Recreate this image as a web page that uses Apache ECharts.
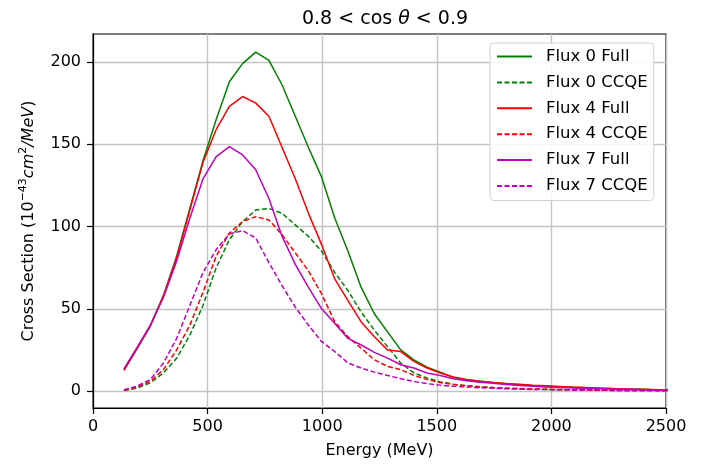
<!DOCTYPE html>
<html>
<head>
<meta charset="utf-8">
<script src="https://cdn.jsdelivr.net/npm/echarts@6/dist/echarts.min.js"></script>
<style>
  html, body { margin: 0; padding: 0; background: #fff; }
  #chartContainer { width: 704px; height: 464px; }
</style>
</head>
<body>
<div id="chartContainer"></div>
<script>
// energies of the points (MeV)
const energy = [135, 192.5, 250, 307.5, 365, 422.5, 480, 537.5, 595, 652.5,
    710, 767.5, 825, 882.5, 940, 997.5, 1055, 1112.5, 1170, 1227.5,
    1285, 1342.5, 1400, 1457.5, 1515, 1572.5, 1630, 1687.5, 1745, 1802.5,
    1860, 1917.5, 1975, 2032.5, 2090, 2147.5, 2205, 2262.5, 2320, 2377.5,
    2435, 2492.5, 2550];

const flux0Full = [12.9, 26, 39.6, 58, 82, 111, 140, 165, 188, 199,
    206, 201, 186, 167, 148, 130, 105, 85, 63, 47,
    36, 25, 19, 14.5, 11.5, 8.3, 6.8, 6.0, 5.2, 4.5,
    3.9, 3.4, 3.0, 2.6, 2.3, 2.0, 1.7, 1.5, 1.3, 1.1,
    0.9, 0.8, 0.7];
const flux0CCQE = [0.3, 1.8, 5, 11, 20, 34, 52, 75, 92, 103,
    110, 111, 108, 101, 94, 85, 72, 61, 48, 37,
    27, 17, 11, 8, 5.5, 4.2, 3.2, 2.6, 2.1, 1.7,
    1.4, 1.2, 1.0, 0.8, 0.7, 0.6, 0.5, 0.4, 0.4, 0.3,
    0.3, 0.2, 0.2];
const flux4Full = [12.5, 26, 39.5, 58, 81, 110, 139, 159, 173, 179,
    175, 167, 148, 129, 108, 89, 68, 55, 42, 33,
    25, 24, 18, 14, 11, 8.5, 7, 6, 5.2, 4.6,
    4.1, 3.6, 3.2, 2.8, 2.4, 2.1, 1.8, 1.5, 1.3, 1.1,
    0.9, 0.7, 0.6];
const flux4CCQE = [0.5, 2.3, 6, 13, 25, 40, 60, 82, 96, 103,
    106, 104, 95, 84, 73, 59, 42, 33, 26, 19,
    15, 13, 9.5, 7, 5.2, 4, 3.2, 2.6, 2.1, 1.8,
    1.5, 1.3, 1.1, 0.9, 0.8, 0.7, 0.6, 0.5, 0.4, 0.4,
    0.3, 0.3, 0.3];
const flux7Full = [13.5, 26.5, 40, 57, 79, 105, 129, 142.5, 148.5, 143.5,
    134.5, 117, 94, 77, 63, 50, 41, 32, 28, 23.5,
    20, 16, 14, 11, 9.5, 7.5, 6.3, 5.4, 4.7, 4,
    3.4, 2.9, 2.5, 2.2, 1.9, 1.6, 1.4, 1.2, 1.0, 0.9,
    0.7, 0.5, 0.4];
const flux7CCQE = [0.8, 3, 7, 17, 32, 52, 72, 86, 95.5, 97.5,
    93, 78, 64, 51, 40, 30, 24, 17, 14, 11.5,
    9.5, 7.5, 5.8, 4.5, 3.6, 2.9, 2.4, 2.0, 1.7, 1.4,
    1.2, 1.0, 0.9, 0.8, 0.7, 0.6, 0.5, 0.4, 0.4, 0.3,
    0.3, 0.2, 0.2];

const yTicks = [0, 50, 100, 150, 200];

const seriesDefs = [
    { name: 'Flux 0 Full', values: flux0Full, color: '#008000', dashed: false },
    { name: 'Flux 0 CCQE', values: flux0CCQE, color: '#008000', dashed: true },
    { name: 'Flux 4 Full', values: flux4Full, color: '#ff0000', dashed: false },
    { name: 'Flux 4 CCQE', values: flux4CCQE, color: '#ff0000', dashed: true },
    { name: 'Flux 7 Full', values: flux7Full, color: '#bf00bf', dashed: false },
    { name: 'Flux 7 CCQE', values: flux7CCQE, color: '#bf00bf', dashed: true }
];

const font = 'DejaVu Sans';
const chart = echarts.init(document.getElementById('chartContainer'));

const series = seriesDefs.map(s => ({
    name: s.name,
    type: 'line',
    data: energy.map((e, i) => [e, s.values[i]]),
    symbol: 'none',
    smooth: false,
    clip: true,
    color: s.color,
    lineStyle: { width: 1.5, color: s.color, type: s.dashed ? [5, 2.5] : 'solid' }
}));

// horizontal grid lines at the y tick values
series[0].markLine = {
    silent: true,
    symbol: 'none',
    label: { show: false },
    lineStyle: { color: '#c4c4c4', width: 1.4, type: 'solid' },
    data: yTicks.map(v => ({ yAxis: v })),
    z: 0
};

chart.setOption({
    animation: false,
    title: {
        text: '0.8 < cos {it|θ} < 0.9',
        left: 380,
        top: 5,
        textAlign: 'center',
        textStyle: {
            fontFamily: font, fontSize: 19, fontWeight: 'normal', color: '#000',
            rich: { it: { fontFamily: font, fontSize: 19, fontStyle: 'italic', color: '#000' } }
        }
    },
    grid: {
        left: 93, right: 38, top: 34, bottom: 55,
        show: true, borderColor: '#000', borderWidth: 1.2, backgroundColor: 'transparent'
    },
    legend: {
        orient: 'vertical',
        left: 490,
        top: 43,
        padding: [5, 6, 6, 6],
        itemWidth: 35,
        itemHeight: 14,
        itemGap: 8.9,
        itemStyle: { opacity: 0 },
        backgroundColor: 'rgba(255,255,255,0.85)',
        borderColor: '#d0d0d0',
        borderWidth: 1,
        borderRadius: 4,
        textStyle: { fontFamily: font, fontSize: 16.5, color: '#000', padding: [0, 0, 0, 9], lineHeight: 14 },
        data: seriesDefs.map(s => s.name)
    },
    xAxis: {
        type: 'value',
        min: 0,
        max: 2500,
        interval: 500,
        name: 'Energy (MeV)',
        nameLocation: 'middle',
        nameGap: 35,
        nameTextStyle: { fontFamily: font, fontSize: 16, color: '#000' },
        axisLine: { show: true, onZero: false, lineStyle: { color: '#000', width: 1.2 } },
        axisTick: { show: true, length: 6, lineStyle: { color: '#000', width: 1.2 } },
        axisLabel: { fontFamily: font, fontSize: 16, color: '#000', margin: 11, formatter: v => String(v) },
        splitLine: { show: true, lineStyle: { color: '#c4c4c4', width: 1.4 } }
    },
    yAxis: {
        type: 'value',
        min: -10.3,
        max: 217,
        name: 'Cross Section (10{sup|−43}{it|cm}{sup|2}{it|/MeV})',
        nameLocation: 'middle',
        nameRotate: 90,
        nameGap: 50,
        nameTextStyle: {
            fontFamily: font, fontSize: 16, color: '#000', lineHeight: 22,
            rich: {
                sup: { fontFamily: font, fontSize: 11, color: '#000', verticalAlign: 'top', lineHeight: 12 },
                it: { fontFamily: font, fontSize: 16, fontStyle: 'italic', color: '#000', lineHeight: 22 }
            }
        },
        axisLine: { show: true, onZero: false, lineStyle: { color: '#000', width: 1.2 } },
        axisTick: { show: true, length: 6, customValues: yTicks, lineStyle: { color: '#000', width: 1.2 } },
        axisLabel: { fontFamily: font, fontSize: 16, color: '#000', margin: 12, customValues: yTicks },
        splitLine: { show: false }
    },
    series: series
});
</script>
</body>
</html>
